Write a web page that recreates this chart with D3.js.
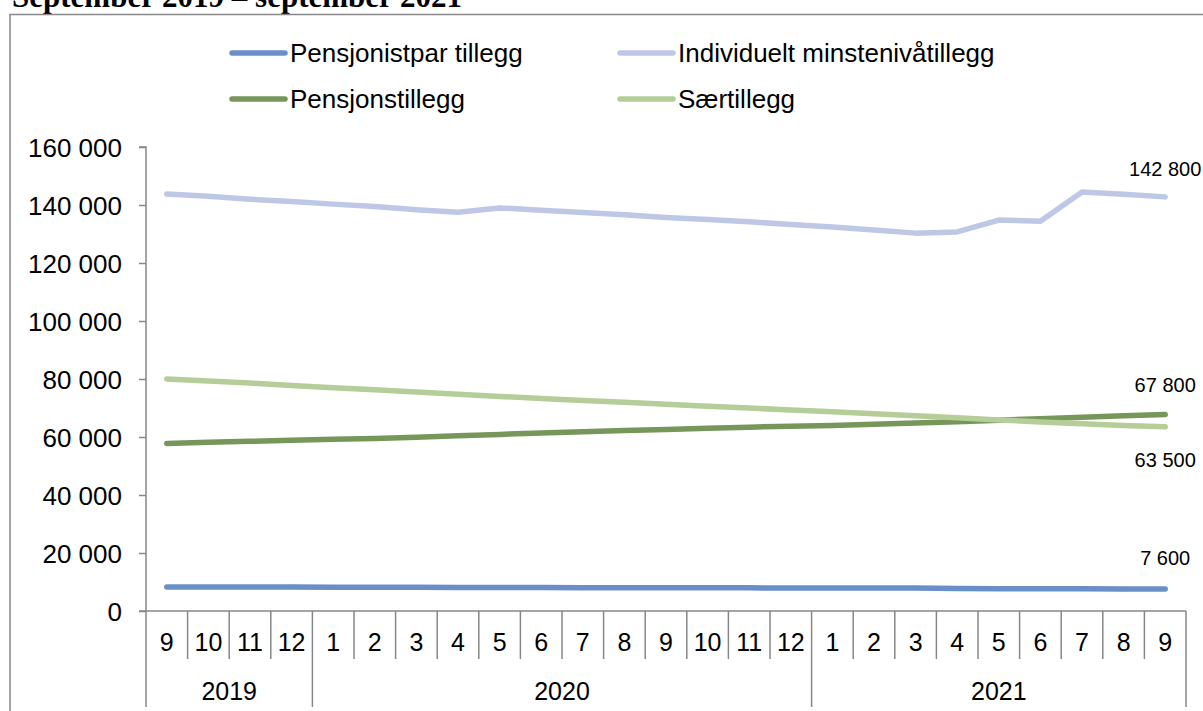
<!DOCTYPE html>
<html lang="no">
<head>
  <meta charset="utf-8">
  <title>Tillegg</title>
  <script src="https://cdn.jsdelivr.net/npm/d3@7"></script>
  <style>
    body { margin: 0; background: #fff; }
    text { font-family: "Liberation Sans", Arial, sans-serif; fill: #000; }
  </style>
</head>
<body>
  <script>
  // månedene (sep 2019 - sep 2021)
  var months = ["9","10","11","12","1","2","3","4","5","6","7","8","9","10","11","12","1","2","3","4","5","6","7","8","9"];
  var years = [
    {label: "2019", from: 0, to: 4},
    {label: "2020", from: 4, to: 16},
    {label: "2021", from: 16, to: 25}
  ];
  var yTicks = [0, 20000, 40000, 60000, 80000, 100000, 120000, 140000, 160000];

  var pensjonistpar = [8300, 8300, 8300, 8300, 8200, 8200, 8200, 8100, 8100, 8100, 8000, 8000, 8000, 8000, 8000, 7900, 7900, 7900, 7900, 7800, 7700, 7700, 7700, 7600, 7600];
  var minsteniva = [143800, 143000, 142000, 141200, 140300, 139500, 138400, 137500, 139000, 138200, 137400, 136600, 135700, 135000, 134200, 133300, 132400, 131400, 130300, 130700, 134800, 134400, 144500, 143700, 142800];
  var pensjonstillegg = [57800, 58200, 58500, 58900, 59200, 59500, 59900, 60400, 60900, 61400, 61800, 62200, 62600, 63000, 63400, 63700, 64000, 64400, 64800, 65300, 65800, 66300, 66800, 67300, 67800];
  var saertillegg = [80000, 79300, 78600, 77800, 77000, 76300, 75500, 74700, 74000, 73300, 72600, 72000, 71300, 70600, 70000, 69300, 68700, 68000, 67300, 66600, 65900, 65200, 64600, 64000, 63500];

  var series = [
    {name: "Pensjonistpar tillegg", values: pensjonistpar, color: "#6A8FC8", dy: -24},
    {name: "Individuelt minstenivåtillegg", values: minsteniva, color: "#BEC8E6", dy: -21},
    {name: "Pensjonstillegg", values: pensjonstillegg, color: "#77965A", dy: -22},
    {name: "Særtillegg", values: saertillegg, color: "#B5CD98", dy: 40}
  ];

  var width = 1203, height = 711;
  // NB: "top" er opptatt av window.top, derfor plotTop osv.
  var plotLeft = 146, plotRight = 1186, plotTop = 147, plotBottom = 611;
  var axisColor = "#878787";

  var svg = d3.select("body").append("svg")
    .attr("width", width)
    .attr("height", height);

  // tittel (avkuttet øverst)
  svg.append("text")
    .attr("x", 12).attr("y", 7)
    .style("font-family", "'Liberation Serif', 'Times New Roman', serif")
    .style("font-weight", "bold")
    .style("font-size", "31px")
    .text("September 2019 – september 2021");

  // ramme
  svg.append("rect")
    .attr("x", 10).attr("y", 14.5)
    .attr("width", 1210).attr("height", 720)
    .attr("fill", "none")
    .attr("stroke", axisColor)
    .attr("stroke-width", 1.5);

  var x = d3.scaleBand().domain(d3.range(months.length)).range([plotLeft, plotRight]);
  var y = d3.scaleLinear().domain([0, 160000]).range([plotBottom, plotTop]);

  var fmt = v => d3.format(",")(v).replace(/,/g, " ");

  // y-akse
  var yAxis = svg.append("g")
    .attr("transform", `translate(${plotLeft},0)`)
    .call(d3.axisLeft(y).tickValues(yTicks).tickSize(7).tickPadding(17).tickFormat(fmt));
  yAxis.selectAll("path, line").attr("stroke", axisColor).attr("stroke-width", 1.5);
  yAxis.select(".domain").attr("d", `M-7,${plotTop}H0V${plotBottom}`);
  yAxis.selectAll("text").style("font-size", "26px").attr("dy", "0.35em")
    .style("font-family", "'Liberation Sans', Arial, sans-serif");

  // x-akse
  var xg = svg.append("g");
  xg.append("line")
    .attr("x1", plotLeft - 7).attr("x2", plotRight)
    .attr("y1", plotBottom).attr("y2", plotBottom)
    .attr("stroke", axisColor).attr("stroke-width", 1.5);

  var bounds = d3.range(months.length + 1).map(i => i < months.length ? x(i) : x(i - 1) + x.bandwidth());
  var yearBounds = new Set(years.map(d => d.from).concat([months.length]));
  xg.selectAll("line.tick")
    .data(bounds)
    .enter().append("line")
    .attr("class", "tick")
    .attr("x1", d => d).attr("x2", d => d)
    .attr("y1", plotBottom)
    .attr("y2", (d, i) => yearBounds.has(i) ? 707 : 659)
    .attr("stroke", axisColor).attr("stroke-width", 1.5);

  xg.selectAll("text.month")
    .data(months)
    .enter().append("text")
    .attr("class", "month")
    .attr("x", (d, i) => x(i) + x.bandwidth() / 2)
    .attr("y", 651)
    .attr("text-anchor", "middle")
    .style("font-size", "25px")
    .text(d => d);

  xg.selectAll("text.year")
    .data(years)
    .enter().append("text")
    .attr("class", "year")
    .attr("x", d => (bounds[d.from] + bounds[d.to]) / 2)
    .attr("y", 700)
    .attr("text-anchor", "middle")
    .style("font-size", "25px")
    .text(d => d.label);

  // linjer
  var line = d3.line()
    .x((d, i) => x(i) + x.bandwidth() / 2)
    .y(d => y(d));

  svg.append("g").selectAll("path")
    .data(series)
    .enter().append("path")
    .attr("d", d => line(d.values))
    .attr("fill", "none")
    .attr("stroke", d => d.color)
    .attr("stroke-width", 5.5)
    .attr("stroke-linecap", "round")
    .attr("stroke-linejoin", "round");

  // verdi for siste måned
  var last = months.length - 1;
  svg.append("g").selectAll("text")
    .data(series)
    .enter().append("text")
    .attr("x", x(last) + x.bandwidth() / 2)
    .attr("y", d => y(d.values[last]) + d.dy)
    .attr("text-anchor", "middle")
    .style("font-size", "20px")
    .text(d => fmt(d.values[last]));

  // tegnforklaring
  var legendPos = [[232, 53], [620, 53], [232, 99], [620, 99]];
  var legend = svg.append("g").selectAll("g")
    .data(series)
    .enter().append("g")
    .attr("transform", (d, i) => `translate(${legendPos[i][0]},${legendPos[i][1]})`);
  legend.append("line")
    .attr("x1", 0).attr("x2", 53)
    .attr("stroke", d => d.color)
    .attr("stroke-width", 5.5)
    .attr("stroke-linecap", "round");
  legend.append("text")
    .attr("x", 58).attr("dy", "0.35em")
    .style("font-size", "26px")
    .text(d => d.name);
  </script>
</body>
</html>
